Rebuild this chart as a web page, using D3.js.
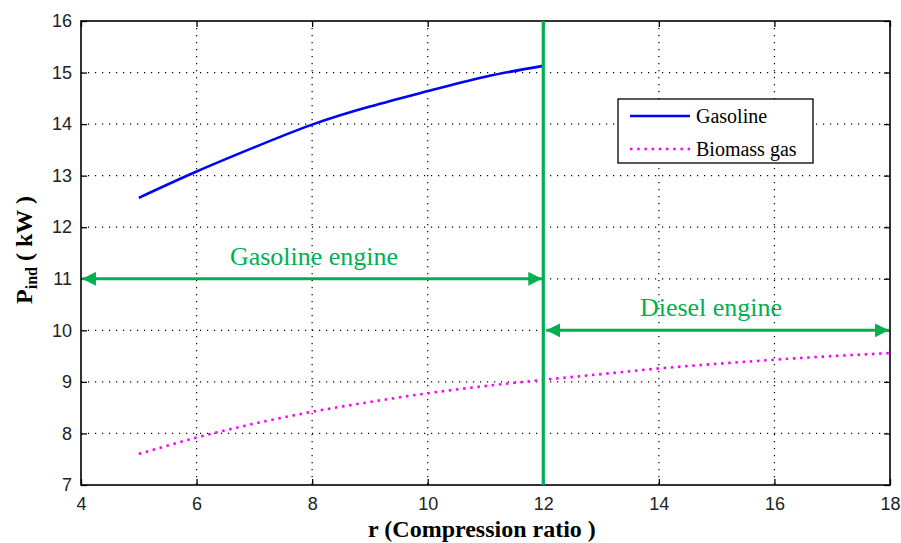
<!DOCTYPE html>
<html><head><meta charset="utf-8">
<script src="https://cdn.jsdelivr.net/npm/d3@7"></script>
<style>body{margin:0;background:#fff}svg{display:block}</style>
</head><body><svg id="c" width="901" height="543"></svg>
<script>
const rValues = [5,6,7,8,9,10,11,12,13,14,15,16,17,18];
const gasolineR = [5,6,7,8,9,10,11,12];
const gasolineP = [12.57,13.08,13.55,13.99,14.34,14.64,14.92,15.13];
const biomassP = [7.60,7.92,8.19,8.42,8.61,8.78,8.92,9.04,9.15,9.26,9.35,9.43,9.50,9.56];
const xTicks = [4,6,8,10,12,14,16,18];
const yTicks = [7,8,9,10,11,12,13,14,15,16];
const seriesNames = ["Gasoline","Biomass gas"];
const regionLabels = ["Gasoline engine","Diesel engine"];
const boundaryR = 12;
const gasRange = [4,12], gasArrowP = 11;
const dieselRange = [12,18], dieselArrowP = 10;

const svg = d3.select("#c");
const L=81,R=890,T=21,B=485;
const x = d3.scaleLinear().domain([4,18]).range([L,R]);
const y = d3.scaleLinear().domain([7,16]).range([B,T]);
const green = "#00b050";

// grid
const g = svg.append("g");
g.selectAll(".vg").data(xTicks.slice(1,-1)).join("line")
 .attr("x1",d=>x(d)).attr("x2",d=>x(d)).attr("y1",T).attr("y2",B)
 .attr("stroke","#000").attr("stroke-width",1.2).attr("stroke-dasharray","1.2,5.8");
g.selectAll(".hg").data(yTicks.slice(1,-1)).join("line")
 .attr("y1",d=>y(d)).attr("y2",d=>y(d)).attr("x1",L).attr("x2",R)
 .attr("stroke","#000").attr("stroke-width",1.2).attr("stroke-dasharray","1.2,5.8");

// axes
const fontTick = "'Liberation Sans', Arial, sans-serif";
const xa = svg.append("g").attr("transform",`translate(0,${B})`)
 .call(d3.axisBottom(x).tickValues(xTicks).tickSize(-6).tickPadding(12).tickFormat(d3.format("d")));
const xt = svg.append("g").attr("transform",`translate(0,${T})`)
 .call(d3.axisTop(x).tickValues(xTicks).tickSize(-6).tickFormat(""));
const ya = svg.append("g").attr("transform",`translate(${L},0)`)
 .call(d3.axisLeft(y).tickValues(yTicks).tickSize(-6).tickPadding(9).tickFormat(d3.format("d")));
const yr = svg.append("g").attr("transform",`translate(${R},0)`)
 .call(d3.axisRight(y).tickValues(yTicks).tickSize(-6).tickFormat(""));
[xa,xt,ya,yr].forEach(a=>{
  a.select(".domain").remove();
  a.selectAll("line").attr("stroke","#000").attr("stroke-width",1.3);
  a.selectAll("text").attr("font-family",fontTick).attr("font-size",18).attr("fill","#222");
});
svg.append("rect").attr("x",L).attr("y",T).attr("width",R-L).attr("height",B-T)
 .attr("fill","none").attr("stroke","#000").attr("stroke-width",1.6);

// lines
const line = d3.line().x(d=>x(d[0])).y(d=>y(d[1])).curve(d3.curveNatural);
svg.append("path").datum(gasolineR.map((r,i)=>[r,gasolineP[i]]))
 .attr("d",line).attr("fill","none").attr("stroke","#0000ff").attr("stroke-width",2.6);
svg.append("path").datum(rValues.map((r,i)=>[r,biomassP[i]]))
 .attr("d",line).attr("fill","none").attr("stroke","#ff00ff").attr("stroke-width",2.6)
 .attr("stroke-dasharray","2.5,4.7");

// boundary
svg.append("line").attr("x1",x(boundaryR)).attr("x2",x(boundaryR)).attr("y1",T).attr("y2",B)
 .attr("stroke",green).attr("stroke-width",3.2);

// arrows
const defs = svg.append("defs");
defs.append("marker").attr("id","ah").attr("viewBox","0 0 10 10").attr("refX",10).attr("refY",5)
 .attr("markerWidth",4.6).attr("markerHeight",4.6).attr("markerUnits","strokeWidth").attr("orient","auto-start-reverse")
 .append("path").attr("d","M0,0L10,5L0,10Z").attr("fill",green);
function arrow(r0,r1,p){
  svg.append("line").attr("x1",x(r0)).attr("x2",x(r1)).attr("y1",y(p)).attr("y2",y(p))
   .attr("stroke",green).attr("stroke-width",3)
   .attr("marker-start","url(#ah)").attr("marker-end","url(#ah)");
}
arrow(gasRange[0]+0.02,gasRange[1]-0.02,gasArrowP);
arrow(dieselRange[0]+0.05,dieselRange[1]-0.02,dieselArrowP);
const serif = "'Liberation Serif','Times New Roman',serif";
svg.append("text").attr("x",314).attr("y",y(gasArrowP)-14).attr("text-anchor","middle")
 .attr("font-family",serif).attr("font-size",26).attr("fill",green).text(regionLabels[0]);
svg.append("text").attr("x",711).attr("y",y(dieselArrowP)-14).attr("text-anchor","middle")
 .attr("font-family",serif).attr("font-size",26).attr("fill",green).text(regionLabels[1]);

// legend
const lg = svg.append("g");
lg.append("rect").attr("x",618).attr("y",99).attr("width",195).attr("height",64)
 .attr("fill","#fff").attr("stroke","#000").attr("stroke-width",1.3);
lg.append("line").attr("x1",630).attr("x2",690).attr("y1",116).attr("y2",116)
 .attr("stroke","#0000ff").attr("stroke-width",2.6);
lg.append("line").attr("x1",630).attr("x2",690).attr("y1",149).attr("y2",149)
 .attr("stroke","#ff00ff").attr("stroke-width",2.6).attr("stroke-dasharray","2.5,4.7");
lg.selectAll("text").data(seriesNames).join("text")
 .attr("x",696).attr("y",(d,i)=>123+i*33).attr("font-family",serif).attr("font-size",20).attr("fill","#000").text(d=>d);

// axis labels
svg.append("text").attr("x",482).attr("y",537).attr("text-anchor","middle")
 .attr("font-family",serif).attr("font-weight","bold").attr("font-size",24).text("r (Compression ratio )");
const yl = svg.append("text").attr("transform","translate(32,250) rotate(-90)").attr("text-anchor","middle")
 .attr("font-family",serif).attr("font-weight","bold").attr("font-size",24);
yl.append("tspan").text("P");
yl.append("tspan").attr("font-size",16).attr("dy",5).text("ind");
yl.append("tspan").attr("dy",-5).text(" ( kW )");
</script></body></html>
